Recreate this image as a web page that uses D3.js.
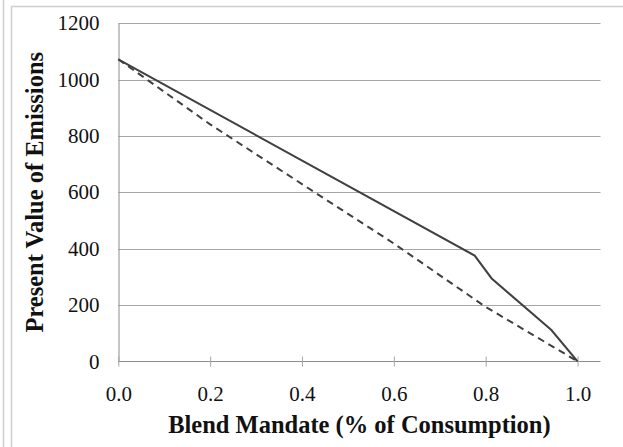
<!DOCTYPE html>
<html><head><meta charset="utf-8">
<script src="https://cdn.jsdelivr.net/npm/d3@7"></script>
<style>html,body{margin:0;padding:0;background:#fff;}svg{display:block;}</style>
</head><body>
<svg id="chart" width="623" height="447"></svg>
<script>
const xTicks = [0, 0.2, 0.4, 0.6, 0.8, 1.0];
const yTicks = [0, 200, 400, 600, 800, 1000, 1200];
const solidX = [0, 0.776, 0.813, 0.943, 1.0];
const solidY = [1072, 375, 294, 111, 0];
const dashedX = [0, 0.2, 0.4, 0.6, 0.8, 1.0];
const dashedY = [1072, 841, 629, 418, 193, 0];
const xTitle = "Blend Mandate (% of Consumption)";
const yTitle = "Present Value of Emissions";

const svg = d3.select("#chart");
const x = d3.scaleLinear().domain([0, 1.05]).range([118.3, 600.5]);
const y = d3.scaleLinear().domain([0, 1200]).range([361.3, 23.2]);
const serif = "'Liberation Serif', 'Times New Roman', serif";

// frame lines
svg.append("line").attr("x1",3.5).attr("x2",3.5).attr("y1",0).attr("y2",447).attr("stroke","#cfcfcf").attr("stroke-width",1.5);
svg.append("line").attr("x1",11.5).attr("x2",11.5).attr("y1",6).attr("y2",447).attr("stroke","#cfcfcf").attr("stroke-width",1.5);
svg.append("line").attr("x1",11).attr("x2",623).attr("y1",6.5).attr("y2",6.5).attr("stroke","#cfcfcf").attr("stroke-width",1.5);

// gridlines
svg.append("g").selectAll("line").data(yTicks.filter(d=>d>0)).join("line")
  .attr("x1", x(0)).attr("x2", x(1.05))
  .attr("y1", d=>Math.round(y(d))+0.5).attr("y2", d=>Math.round(y(d))+0.5)
  .attr("stroke", "#a6a6a6").attr("stroke-width", 1);

// y axis
const yAxis = d3.axisLeft(y).tickValues(yTicks).tickSize(0).tickPadding(19).tickFormat(d3.format("d"));
const gy = svg.append("g").attr("transform", `translate(${Math.round(x(0))+0.5},0)`).call(yAxis);
gy.select(".domain").attr("stroke", "#8c8c8c");
gy.selectAll("text").attr("font-family",serif).attr("font-size",21).attr("fill","#111");

// x axis
const xAxis = d3.axisBottom(x).tickValues(xTicks).tickSize(5).tickPadding(20).tickFormat(d3.format(".1f"));
const gx = svg.append("g").attr("transform", `translate(0,${Math.round(y(0))+0.5})`).call(xAxis);
gx.select(".domain").attr("stroke", "#8c8c8c").attr("d", `M${x(0)},0H${x(1.05)}`);
gx.selectAll(".tick line").attr("stroke","#a6a6a6").attr("y1",-5).attr("y2",5);
gx.selectAll("text").attr("font-family",serif).attr("font-size",21).attr("fill","#111")
  .attr("y", 39.5).attr("dy", 0);

// lines
const line = d3.line().x(d=>x(d[0])).y(d=>y(d[1]));
svg.append("path").datum(dashedX.map((v,i)=>[v,dashedY[i]]))
  .attr("d", line).attr("fill","none").attr("stroke","#404040").attr("stroke-width",2).attr("stroke-dasharray","7,5");
svg.append("path").datum(solidX.map((v,i)=>[v,solidY[i]]))
  .attr("d", line).attr("fill","none").attr("stroke","#404040").attr("stroke-width",2);

// titles
const cx = (x(0) + x(1.05)) / 2;
const cy = (y(0) + y(1200)) / 2;
svg.append("text").attr("x", cx).attr("y", 433.3).attr("text-anchor","middle")
  .attr("font-family",serif).attr("font-weight","bold").attr("font-size",24.5).attr("fill","#111")
  .text(xTitle);
svg.append("text").attr("transform",`translate(43.3,${cy}) rotate(-90)`).attr("text-anchor","middle")
  .attr("font-family",serif).attr("font-weight","bold").attr("font-size",24.5).attr("fill","#111")
  .text(yTitle);
</script>
</body></html>
